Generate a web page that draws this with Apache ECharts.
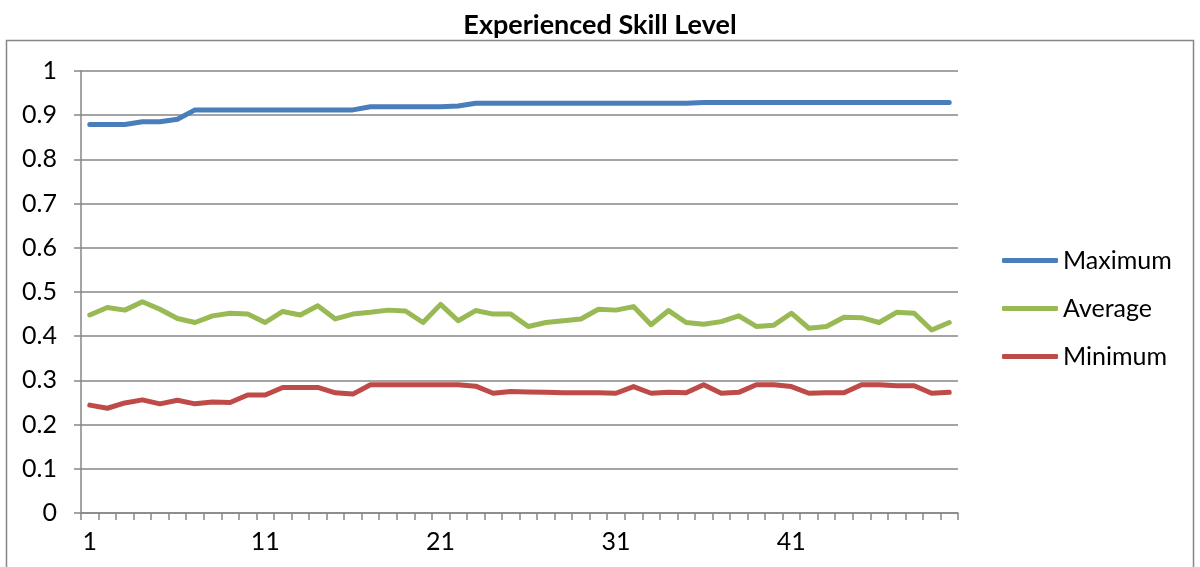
<!DOCTYPE html>
<html>
<head>
<meta charset="utf-8">
<script src="https://cdn.jsdelivr.net/npm/echarts@6/dist/echarts.min.js"></script>
<style>
  html, body { margin: 0; padding: 0; background: #fff; }
  #chart { width: 1200px; height: 567px; }
</style>
</head>
<body>
<div id="chart"></div>
<script>
// Generation numbers along the horizontal axis
const generations = ['1','2','3','4','5','6','7','8','9','10',
  '11','12','13','14','15','16','17','18','19','20',
  '21','22','23','24','25','26','27','28','29','30',
  '31','32','33','34','35','36','37','38','39','40',
  '41','42','43','44','45','46','47','48','49','50'];

// Skill level per generation
const maximum = [0.879, 0.879, 0.879, 0.885, 0.885, 0.891, 0.912, 0.912, 0.912, 0.912,
  0.912, 0.912, 0.912, 0.912, 0.912, 0.912, 0.919, 0.919, 0.919, 0.919,
  0.919, 0.921, 0.927, 0.927, 0.927, 0.927, 0.927, 0.927, 0.927, 0.927,
  0.927, 0.927, 0.927, 0.927, 0.927, 0.929, 0.929, 0.929, 0.929, 0.929,
  0.929, 0.929, 0.929, 0.929, 0.929, 0.929, 0.929, 0.929, 0.929, 0.929];

const average = [0.448, 0.465, 0.459, 0.478, 0.461, 0.440, 0.431, 0.446, 0.452, 0.450,
  0.431, 0.456, 0.448, 0.469, 0.439, 0.450, 0.454, 0.459, 0.457, 0.431,
  0.472, 0.435, 0.458, 0.450, 0.450, 0.422, 0.431, 0.435, 0.439, 0.461,
  0.459, 0.467, 0.426, 0.458, 0.431, 0.427, 0.433, 0.446, 0.422, 0.425,
  0.452, 0.418, 0.422, 0.443, 0.442, 0.431, 0.454, 0.452, 0.414, 0.431];

const minimum = [0.244, 0.237, 0.249, 0.256, 0.247, 0.255, 0.247, 0.251, 0.250, 0.267,
  0.267, 0.284, 0.284, 0.284, 0.272, 0.269, 0.290, 0.290, 0.290, 0.290,
  0.290, 0.290, 0.287, 0.271, 0.275, 0.274, 0.273, 0.272, 0.272, 0.272,
  0.271, 0.286, 0.271, 0.273, 0.272, 0.290, 0.271, 0.273, 0.290, 0.290,
  0.286, 0.271, 0.272, 0.272, 0.290, 0.290, 0.288, 0.288, 0.271, 0.273];

const seriesNames = ['Maximum', 'Average', 'Minimum'];
const seriesColors = ['#4a7ebb', '#98b954', '#be4b48'];
const seriesData = [maximum, average, minimum];

const FONT = 'Lato, "Open Sans", sans-serif';
const GRID_GRAY = '#868686';

const chart = echarts.init(document.getElementById('chart'), null, { renderer: 'canvas' });

chart.setOption({
  animation: false,
  backgroundColor: '#ffffff',
  title: {
    text: 'Experienced Skill Level',
    left: 'center',
    top: 7,
    textStyle: { fontFamily: FONT, fontSize: 27, fontWeight: 'bold', color: '#000', lineHeight: 27 }
  },
  graphic: [{
    type: 'rect',
    shape: { x: 6.5, y: 40.5, width: 1187, height: 600 },
    style: { fill: 'none', stroke: GRID_GRAY, lineWidth: 1.5 },
    silent: true,
    z: -1
  }],
  legend: {
    orient: 'vertical',
    left: 997,
    top: 242,
    itemWidth: 56,
    itemHeight: 5,
    itemGap: 21,
    icon: 'roundRect',
    data: seriesNames,
    textStyle: { fontFamily: FONT, fontSize: 25, color: '#000', lineHeight: 27 }
  },
  grid: { left: 81, right: 242, top: 71, bottom: 54, containLabel: false },
  xAxis: {
    type: 'category',
    data: generations,
    boundaryGap: true,
    axisLine: { show: true, lineStyle: { color: GRID_GRAY, width: 1.5 } },
    axisTick: { show: true, interval: 0, length: 7, inside: false, lineStyle: { color: GRID_GRAY, width: 1.5 } },
    axisLabel: { interval: 9, margin: 16, fontFamily: FONT, fontSize: 25, color: '#000' },
    splitLine: { show: false }
  },
  yAxis: {
    type: 'value',
    min: 0,
    max: 1,
    interval: 0.1,
    axisLine: { show: true, lineStyle: { color: GRID_GRAY, width: 1.5 } },
    axisTick: { show: true, length: 7, lineStyle: { color: GRID_GRAY, width: 1.5 } },
    axisLabel: { margin: 24, fontFamily: FONT, fontSize: 25, color: '#000' },
    splitLine: { show: true, lineStyle: { color: GRID_GRAY, width: 1.5 } }
  },
  series: seriesNames.map((name, i) => ({
    name: name,
    type: 'line',
    data: seriesData[i],
    symbol: 'none',
    color: seriesColors[i],
    lineStyle: { width: 5, color: seriesColors[i], cap: 'round', join: 'round' },
    z: 3 - i
  }))
});
</script>
</body>
</html>
